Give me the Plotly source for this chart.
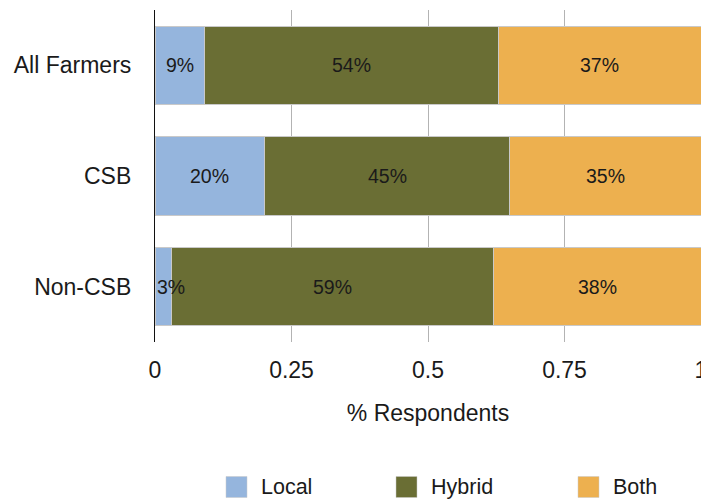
import plotly.graph_objects as go

# Seed preference by farmer group (share of respondents)
groups = ["All Farmers", "CSB", "Non-CSB"]
local = [0.09, 0.20, 0.03]
hybrid = [0.54, 0.45, 0.59]
both = [0.37, 0.35, 0.38]

series_names = ["Local", "Hybrid", "Both"]
series_colors = ["#95b5dd", "#6a6e34", "#edb04f"]
x_ticks = [0, 0.25, 0.5, 0.75, 1]
x_tick_labels = ["0", "0.25", "0.5", "0.75", "1"]

FONT = "Liberation Sans, Arial, Helvetica, sans-serif"
series_values = [local, hybrid, both]

fig = go.Figure()
for name, vals, color in zip(series_names, series_values, series_colors):
    fig.add_trace(go.Bar(
        y=groups, x=vals, name=name, orientation="h",
        marker=dict(color=color, line=dict(color="#c9c9c9", width=1)),
        width=0.705, showlegend=False,
    ))

# Percentage labels centred on each segment (narrow segments anchor at their left edge)
annotations = []
label_font = dict(size=19.5, color="#1a1a1a", family=FONT)
for gi, g in enumerate(groups):
    base = 0.0
    for vals in series_values:
        v = vals[gi]
        txt = f"{round(v * 100)}%"
        if v < 0.06:
            annotations.append(dict(x=base, y=g, xref="x", yref="y", text=txt,
                                    showarrow=False, xanchor="left",
                                    font=label_font))
        else:
            annotations.append(dict(x=base + v / 2, y=g, xref="x", yref="y", text=txt,
                                    showarrow=False, xanchor="center",
                                    font=label_font))
        base += v

# Legend row below the axis title
W_PLOT = 546.0
H_PLOT = 332.0
legend_px = [226, 396, 578]
legend_y = (342 - 487) / H_PLOT
shapes = []
for px, name, color in zip(legend_px, series_names, series_colors):
    x0 = (px - 155) / W_PLOT
    x1 = (px + 21 - 155) / W_PLOT
    shapes.append(dict(type="rect", xref="paper", yref="paper",
                       x0=x0, x1=x1, y0=legend_y - 10.5 / H_PLOT, y1=legend_y + 10.5 / H_PLOT,
                       fillcolor=color, line=dict(color="#c9c9c9", width=0.5)))
    annotations.append(dict(x=(px + 33 - 155) / W_PLOT, y=legend_y, xref="paper", yref="paper",
                            text=name, showarrow=False, xanchor="left", yanchor="middle",
                            font=dict(size=21.5, color="#1a1a1a", family=FONT)))

fig.update_layout(
    barmode="stack",
    width=701, height=499,
    margin=dict(l=155, r=0, t=10, b=157),
    paper_bgcolor="white", plot_bgcolor="white",
    font=dict(family=FONT, size=23, color="#1a1a1a"),
    annotations=annotations,
    shapes=shapes,
    bargap=0.3,
)
fig.update_xaxes(
    range=[0, 1], tickvals=x_ticks, ticktext=x_tick_labels,
    showgrid=True, gridcolor="#b3b3b3", gridwidth=1.3,
    zeroline=False, showline=False, ticks="",
    ticklabelstandoff=12, ticklabeloverflow="allow",
    title=dict(text="% Respondents", standoff=22, font=dict(size=23)),
    tickfont=dict(size=23), automargin=False,
)
fig.update_yaxes(
    categoryorder="array", categoryarray=groups, autorange="reversed",
    showgrid=False, zeroline=False,
    showline=True, linecolor="#111111", linewidth=1.2,
    ticks="", ticklabelstandoff=18, tickfont=dict(size=23), automargin=False,
)

fig.write_html("out.html")
